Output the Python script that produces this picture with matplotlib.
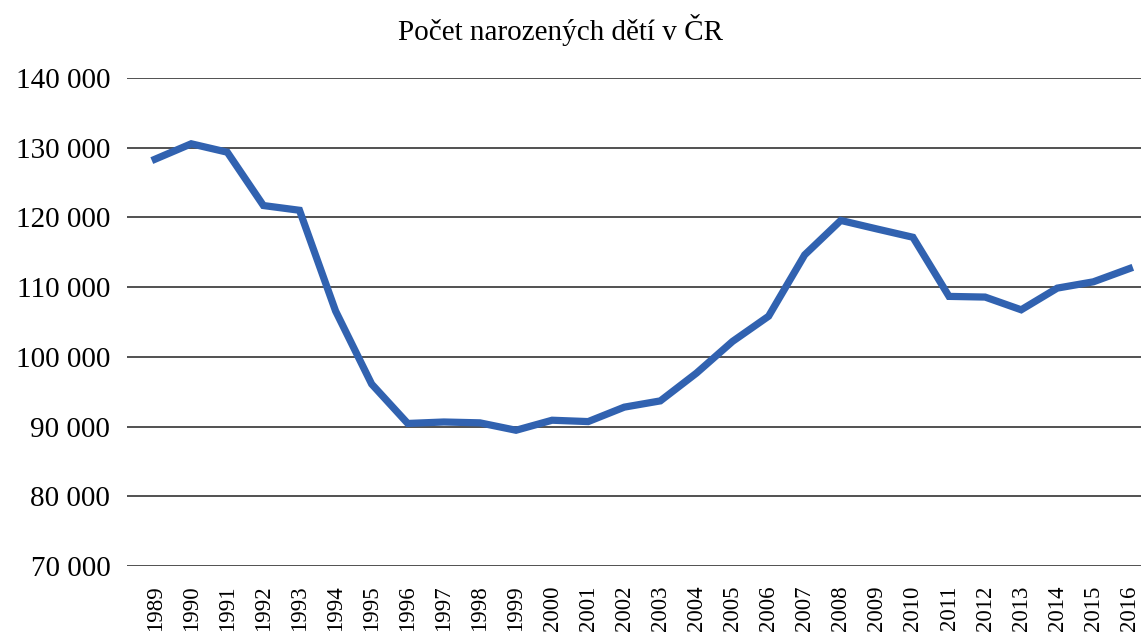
import matplotlib
matplotlib.use("Agg")
import matplotlib.pyplot as plt
from matplotlib.ticker import FuncFormatter, MultipleLocator

years = [str(y) for y in range(1989, 2017)]
births = [128356, 130564, 129354, 121705, 121025, 106579, 96097, 90446,
          90657, 90535, 89471, 90910, 90715, 92786, 93685, 97664, 102211,
          105831, 114632, 119570, 118348, 117153, 108673, 108576, 106751,
          109860, 110764, 112663]
title = "Počet narozených dětí v ČR"

plt.rcParams['font.family'] = ['Liberation Serif', 'DejaVu Serif']

fig = plt.figure(figsize=(11.41, 6.38), dpi=100)
ax = fig.add_axes([127/1141, 1-566/638, 1-127/1141, (566-78)/638])

x = list(range(len(years)))
ax.plot(x, births, color='#3162B0', linewidth=5.2, solid_joinstyle='miter', zorder=3)

ax.set_ylim(70000, 140000)
ax.set_xlim(-0.78, len(years) - 1 + 0.32)
ax.yaxis.set_major_locator(MultipleLocator(10000))
ax.yaxis.set_major_formatter(FuncFormatter(lambda v, p: f"{int(v):,}".replace(",", " ")))
ax.grid(axis='y', color='#333333', linewidth=1.2, zorder=1)
ax.set_axisbelow(True)
for s in ax.spines.values():
    s.set_visible(False)
ax.set_xticks(x)
ax.set_xticklabels(years, rotation=90, fontsize=16.5)
ax.tick_params(axis='x', length=0, pad=14)
ax.tick_params(axis='y', length=0, pad=12, labelsize=21)

fig.text(560/1141, 1-30/638, title, ha='center', va='center', fontsize=21)

fig.savefig("out.png", dpi=100)
